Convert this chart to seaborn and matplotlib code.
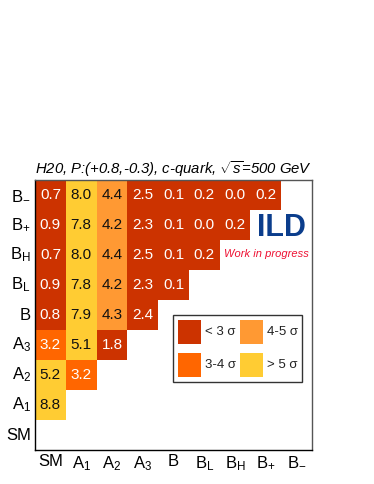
import numpy as np
import pandas as pd
import matplotlib
matplotlib.use("Agg")
import matplotlib.pyplot as plt
from matplotlib.colors import ListedColormap, BoundaryNorm
from matplotlib.patches import Rectangle
import seaborn as sns

# ---- data ----
x_labels = ["SM", "A$_{1}$", "A$_{2}$", "A$_{3}$", "B", "B$_{\\rm L}$", "B$_{\\rm H}$", "B$_{+}$", "B$_{-}$"]
y_labels = ["B$_{-}$", "B$_{+}$", "B$_{\\rm H}$", "B$_{\\rm L}$", "B", "A$_{3}$", "A$_{2}$", "A$_{1}$", "SM"]
row_Bm = [0.7, 8.0, 4.4, 2.5, 0.1, 0.2, 0.0, 0.2]
row_Bp = [0.9, 7.8, 4.2, 2.3, 0.1, 0.0, 0.2]
row_BH = [0.7, 8.0, 4.4, 2.5, 0.1, 0.2]
row_BL = [0.9, 7.8, 4.2, 2.3, 0.1]
row_B = [0.8, 7.9, 4.3, 2.4]
row_A3 = [3.2, 5.1, 1.8]
row_A2 = [5.2, 3.2]
row_A1 = [8.8]
row_SM = []
rows = [row_Bm, row_Bp, row_BH, row_BL, row_B, row_A3, row_A2, row_A1, row_SM]
bounds = [-1, 3, 4, 5, 100]
colors = ["#CC3300", "#FF6600", "#FF9933", "#FFCC33"]
legend_labels = ["< 3 σ", "3-4 σ", "4-5 σ", "> 5 σ"]

n = len(x_labels)
mat = np.full((n, n), np.nan)
for i, r in enumerate(rows):
    for j, v in enumerate(r):
        mat[i, j] = v
df = pd.DataFrame(mat, index=y_labels, columns=x_labels)

plt.rcParams['font.family'] = ['Liberation Sans', 'DejaVu Sans']
plt.rcParams['mathtext.fontset'] = 'custom'
plt.rcParams['mathtext.rm'] = 'Liberation Sans'
plt.rcParams['mathtext.it'] = 'Liberation Sans:italic'

fig = plt.figure(figsize=(3.74, 4.84), dpi=100)
ax = fig.add_axes([35/374, 1-450/484, 277/374, 270/484])

cmap = ListedColormap(colors)
norm = BoundaryNorm(bounds, cmap.N)
sns.heatmap(df, ax=ax, cmap=cmap, norm=norm, cbar=False, mask=df.isna(),
            annot=False, square=False)

for i in range(n):
    for j in range(n):
        v = mat[i, j]
        if np.isnan(v):
            continue
        tc = "white" if v < 4 else "#111111"
        ax.text(j + 0.5, i + 0.5, f"{v:.1f}", ha="center", va="center",
                color=tc, fontsize=11)

ax.set_xlim(0, n)
ax.set_ylim(n, 0)
for s in ax.spines.values():
    s.set_visible(True)
    s.set_color("#555555")
    s.set_linewidth(1.0)
ax.spines['left'].set_color("black")
ax.spines['bottom'].set_color("black")
ax.tick_params(length=0, labelsize=12, pad=3)
ax.set_xticklabels(x_labels, rotation=0)
ax.set_yticklabels(y_labels, rotation=0)

ax.set_title("H20, P:(+0.8,-0.3), c-quark, $\\sqrt{s}$=500 GeV", fontsize=10.7,
             style="italic", pad=4)

# ILD label
fig.text(281/374, 1-228/484, "ILD", color="#0B3D8C", fontsize=22, fontweight="bold",
         ha="center", va="center")
fig.text(266/374, 1-254/484, "Work in progress", color="#EE1133", fontsize=8,
         style="italic", ha="center", va="center")

# legend box
lx0, ly0, lx1, ly1 = 173, 315, 302, 382
fig.patches.append(Rectangle((lx0/374, 1-ly1/484), (lx1-lx0)/374, (ly1-ly0)/484,
                             transform=fig.transFigure, facecolor="white",
                             edgecolor="#333333", lw=1.0))
pos = [(178, 320), (178, 353), (240, 320), (240, 353)]
for k, (px, py) in enumerate(pos):
    fig.patches.append(Rectangle((px/374, 1-(py+24)/484), 23/374, 24/484,
                                 transform=fig.transFigure, facecolor=colors[k],
                                 edgecolor="none"))
    fig.text((px+27)/374, 1-(py+12)/484, legend_labels[k], fontsize=9.5,
             ha="left", va="center", color="#222222")

fig.savefig("out.png", dpi=100)
